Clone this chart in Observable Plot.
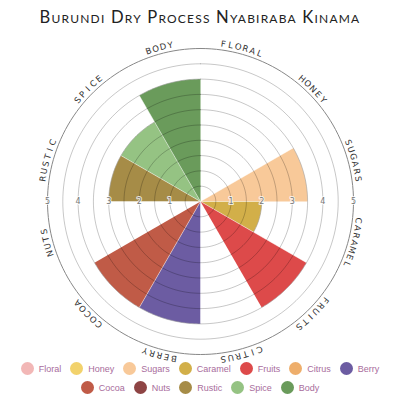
<!DOCTYPE html>
<html>
<head>
<meta charset="utf-8">
<script src="https://cdn.jsdelivr.net/npm/d3@7"></script>
<script src="https://cdn.jsdelivr.net/npm/@observablehq/plot@0.6"></script>
<style>
  html, body { margin: 0; padding: 0; background: #fff; width: 400px; height: 400px; overflow: hidden; position: relative; }
  #title { position: absolute; top: 7px; left: 0; width: 400px; text-align: center; font-family: Lato, sans-serif; font-variant: small-caps; font-size: 16.6px; letter-spacing: 1.2px; color: #222; }
  #chart { position: absolute; top: 36px; left: 0; }
  #legend { position: absolute; top: 362px; left: 4px; width: 392px; display: flex; flex-wrap: wrap; justify-content: center; column-gap: 9px; row-gap: 6px; font-family: "Liberation Sans", Arial, sans-serif; font-size: 9px; color: #a86c9c; }
  .item { display: flex; align-items: center; height: 13px; }
  .sw { width: 13px; height: 13px; border-radius: 50%; margin-right: 5px; }
</style>
</head>
<body>
<div id="title">Burundi Dry Process Nyabiraba Kinama</div>
<div id="chart"></div>
<div id="legend"></div>
<script>
const categories = ["Floral","Honey","Sugars","Caramel","Fruits","Citrus","Berry","Cocoa","Nuts","Rustic","Spice","Body"];
const values = [0, 0, 3.5, 2, 4, 0, 4, 4, 0, 3, 3, 4];
const colors = ["#f2b7b6","#f2d26c","#f8c999","#d2af49","#dd4a4a","#eeae6b","#6c5ca2","#c05b47","#8e4444","#a68c47","#95c383","#6a9b5b"];
const ringValues = [0.5, 1, 1.5, 2, 2.5, 3, 3.5, 4, 4.5, 5];
const tickLabels = [1, 2, 3, 4, 5];

const rad = d => d * Math.PI / 180;
const sector = 360 / categories.length;

// wedge outlines from values
const wedgePts = [];
categories.forEach((c, i) => {
  const v = values[i];
  if (!v) return;
  wedgePts.push({cat: c, x: 0, y: 0});
  for (let a = i * sector; a <= (i + 1) * sector + 1e-9; a += 1) {
    wedgePts.push({cat: c, x: v * Math.sin(rad(a)), y: v * Math.cos(rad(a))});
  }
});

// rings
const ringPts = [];
ringValues.forEach(r => {
  for (let a = 0; a <= 360; a += 2) ringPts.push({r, x: r * Math.sin(rad(a)), y: r * Math.cos(rad(a))});
});
const innerRings = ringPts.filter(d => d.r < 5);
const outerRing = ringPts.filter(d => d.r === 5);

// tick labels on both sides
const tickData = tickLabels.flatMap(t => [{t, x: t, y: 0}, {t, x: -t, y: 0}]);

// curved category labels, letter by letter
const labelR = 5.2;
const stepDeg = 2.7;
const letters = [];
categories.forEach((c, i) => {
  const s = c.toUpperCase();
  const mid = i * sector + sector / 2;
  [...s].forEach((ch, j) => {
    const a = mid + (j - (s.length - 1) / 2) * stepDeg;
    letters.push({ch, a, x: labelR * Math.sin(rad(a)), y: labelR * Math.cos(rad(a))});
  });
});

const unit = 30.6;
const cx = 200, cy = 165;
const D = 6;

const plot = Plot.plot({
  width: 400,
  height: 330,
  margin: 0,
  style: {background: "transparent", fontFamily: "'DejaVu Sans', sans-serif"},
  x: {domain: [-D, D], range: [cx - D * unit, cx + D * unit], axis: null},
  y: {domain: [-D, D], range: [cy + D * unit, cy - D * unit], axis: null},
  color: {domain: categories, range: colors},
  marks: [
    Plot.line(wedgePts, {x: "x", y: "y", z: "cat", fill: "cat", stroke: "white", strokeWidth: 0.8, strokeOpacity: 0.55}),
    Plot.line(innerRings, {x: "x", y: "y", z: "r", stroke: "#000", strokeOpacity: 0.28, strokeWidth: 0.8}),
    Plot.line(outerRing, {x: "x", y: "y", z: "r", stroke: "#888", strokeWidth: 1}),
    Plot.text(tickData, {x: "x", y: "y", text: "t", fontSize: 8, fill: "#777", stroke: "white", strokeWidth: 2, strokeOpacity: 0.8}),
    Plot.text(letters, {x: "x", y: "y", text: "ch", rotate: "a", fontSize: 8.5, fill: "#333", fontFamily: "'DejaVu Sans', sans-serif"})
  ]
});
document.getElementById("chart").appendChild(plot);

const legend = document.getElementById("legend");
categories.forEach((c, i) => {
  const it = document.createElement("div");
  it.className = "item";
  const sw = document.createElement("span");
  sw.className = "sw";
  sw.style.background = colors[i];
  const tx = document.createElement("span");
  tx.textContent = c;
  it.appendChild(sw);
  it.appendChild(tx);
  legend.appendChild(it);
});
</script>
</body>
</html>
